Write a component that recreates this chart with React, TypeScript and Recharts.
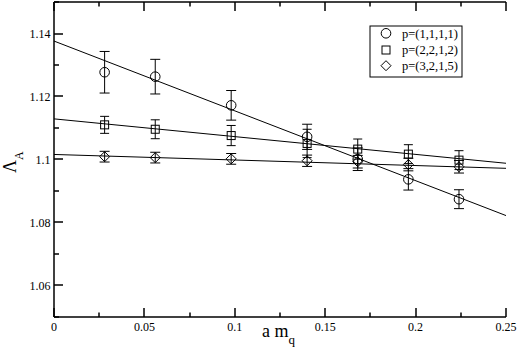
import React from 'react';
import { ComposedChart, XAxis, YAxis, Scatter, Line, ErrorBar, Customized } from 'recharts';

// ---- data ----
const xValues = [0.028, 0.056, 0.098, 0.14, 0.168, 0.196, 0.224];
const p1111 = [1.1277, 1.1263, 1.1172, 1.1072, 1.1001, 1.0937, 1.0874];
const p1111Err = [0.0066, 0.0055, 0.0047, 0.004, 0.0036, 0.0034, 0.003];
const p2212 = [1.111, 1.1096, 1.1076, 1.1051, 1.1033, 1.1017, 1.0998];
const p2212Err = [0.0027, 0.003, 0.0032, 0.0045, 0.0032, 0.003, 0.003];
const p3215 = [1.1009, 1.1006, 1.1002, 1.0996, 1.0993, 1.0984, 1.0977];
const p3215Err = [0.0017, 0.0017, 0.0017, 0.0018, 0.002, 0.002, 0.002];

const fitX = [0, 0.25];
const fit1111 = [1.1376, 1.0822];
const fit2212 = [1.1129, 1.0988];
const fit3215 = [1.1016, 1.0972];

const seriesNames = ['p=(1,1,1,1)', 'p=(2,2,1,2)', 'p=(3,2,1,5)'];

const xMajorTicks = [0, 0.05, 0.1, 0.15, 0.2, 0.25];
const xMinorTicks = [0.025, 0.075, 0.125, 0.175, 0.225];
const xTickLabels = ['0', '0.05', '0.1', '0.15', '0.2', '0.25'];
const yMajorTicks = [1.06, 1.08, 1.1, 1.12, 1.14];
const yMinorTicks = [1.05, 1.07, 1.09, 1.11, 1.13, 1.15];
const yTickLabels = ['1.06', '1.08', '1.1', '1.12', '1.14'];

const xTitle = 'a m';
const xTitleSub = 'q';
const yTitle = 'Λ';
const yTitleSub = 'A';

// ---- layout constants ----
const PLOT_TOP = 2;
const PLOT_HEIGHT = 315;
const AXIS_W = 1.5;

// ---- helpers ----
const makePoints = (ys: number[], errs: number[]) =>
  xValues.map((x, i) => ({ x, y: ys[i], err: errs[i] }));
const makeFit = (ys: number[]) => fitX.map((x, i) => ({ x, y: ys[i] }));

const d1 = makePoints(p1111, p1111Err);
const d2 = makePoints(p2212, p2212Err);
const d3 = makePoints(p3215, p3215Err);
const f1 = makeFit(fit1111);
const f2 = makeFit(fit2212);
const f3 = makeFit(fit3215);

const FONT = 'Liberation Serif, Times New Roman, Times, serif';
const txt = (size: number) => ({ fontFamily: FONT, fontSize: size });
const allX = [...xMajorTicks, ...xMinorTicks].sort((a, b) => a - b);
const allY = [...yMajorTicks, ...yMinorTicks].sort((a, b) => a - b);
const findIdx = (arr: number[], v: number) => arr.findIndex((t) => Math.abs(t - v) < 1e-9);
const snap = (v: number) => Math.round(v);

const BottomTick = (props: any) => {
  const { x, y, payload } = props;
  const idx = findIdx(xMajorTicks, payload.value);
  const major = idx >= 0;
  const len = major ? 9 : 4.5;
  const top = y - PLOT_HEIGHT;
  const sx = snap(x);
  return (
    <g>
      <line x1={sx} x2={sx} y1={y} y2={y - len} stroke="#000" strokeWidth={AXIS_W} />
      <line x1={sx} x2={sx} y1={top} y2={top + len} stroke="#000" strokeWidth={AXIS_W} />
      {major && (
        <text x={x} y={y + 13.5} textAnchor="middle" style={txt(12)} fill="#000">
          {xTickLabels[idx]}
        </text>
      )}
    </g>
  );
};
const LeftTick = (props: any) => {
  const { x, y, payload } = props;
  const idx = findIdx(yMajorTicks, payload.value);
  const major = idx >= 0;
  const sy = snap(y);
  return (
    <g>
      <line x1={x} x2={x + (major ? 9 : 5)} y1={sy} y2={sy} stroke="#000" strokeWidth={AXIS_W} />
      {major && (
        <text x={x - 3.5} y={y + 4.2} textAnchor="end" style={txt(12)} fill="#000">
          {yTickLabels[idx]}
        </text>
      )}
    </g>
  );
};
const RightTick = (props: any) => {
  const { x, y, payload } = props;
  const major = findIdx(yMajorTicks, payload.value) >= 0;
  const sy = snap(y);
  return <line x1={x} x2={x - (major ? 9 : 5)} y1={sy} y2={sy} stroke="#000" strokeWidth={AXIS_W} />;
};

const CircleShape = (p: any) => <circle cx={p.cx} cy={p.cy} r={4.8} fill="none" stroke="#000" strokeWidth={1} />;
const SquareShape = (p: any) => (
  <rect x={p.cx - 4} y={p.cy - 4} width={8} height={8} fill="none" stroke="#000" strokeWidth={1} />
);
const DiamondShape = (p: any) => (
  <path
    d={`M${p.cx},${p.cy - 5}L${p.cx + 5},${p.cy}L${p.cx},${p.cy + 5}L${p.cx - 5},${p.cy}Z`}
    fill="none"
    stroke="#000"
    strokeWidth={1}
  />
);

const Decorations = () => {
  const lx = 370;
  const ly = 26;
  const rows = [33.3, 50, 65.7];
  return (
    <g>
      <rect x={lx} y={ly} width={92} height={51} fill="#fff" stroke="#000" strokeWidth={1} />
      <circle cx={386} cy={rows[0]} r={4.8} fill="none" stroke="#000" />
      <rect x={382} y={rows[1] - 4} width={8} height={8} fill="none" stroke="#000" />
      <path
        d={`M386,${rows[2] - 5}L391,${rows[2]}L386,${rows[2] + 5}L381,${rows[2]}Z`}
        fill="none"
        stroke="#000"
      />
      {seriesNames.map((n, i) => (
        <text key={n} x={402} y={rows[i] + 4.3} style={txt(12.5)} fill="#000">
          {n}
        </text>
      ))}
      <text x={262} y={337} style={txt(18)} fill="#000">
        {xTitle}
        <tspan style={txt(13)} dy={7}>
          {xTitleSub}
        </tspan>
      </text>
      <text x={16} y={173} style={txt(18)} fill="#000" transform="rotate(-90, 16, 173)">
        {yTitle}
        <tspan style={txt(12)} dy={7}>
          {yTitleSub}
        </tspan>
      </text>
    </g>
  );
};

export default function App() {
  return (
    <div style={{ position: 'absolute', left: 0, top: 0, background: '#fff' }}>
      <ComposedChart width={518} height={357} margin={{ top: 0, right: 12, bottom: 0, left: 0 }}>
        <XAxis
          dataKey="x"
          type="number"
          domain={[0, 0.25]}
          ticks={allX}
          interval={0}
          tickSize={0}
          tickMargin={0}
          tickLine={false}
          tick={<BottomTick />}
          axisLine={{ stroke: '#000', strokeWidth: AXIS_W }}
          height={40}
          allowDataOverflow
        />
        <XAxis
          xAxisId="top"
          orientation="top"
          dataKey="x"
          type="number"
          domain={[0, 0.25]}
          ticks={allX}
          tickLine={false}
          tick={false}
          axisLine={{ stroke: '#000', strokeWidth: AXIS_W }}
          height={PLOT_TOP}
          allowDataOverflow
        />
        <YAxis
          type="number"
          domain={[1.05, 1.15]}
          ticks={allY}
          interval={0}
          tickSize={0}
          tickMargin={0}
          tickLine={false}
          tick={<LeftTick />}
          axisLine={{ stroke: '#000', strokeWidth: AXIS_W }}
          width={54}
          allowDataOverflow
        />
        <YAxis
          yAxisId="right"
          orientation="right"
          type="number"
          domain={[1.05, 1.15]}
          ticks={allY}
          interval={0}
          tickSize={0}
          tickMargin={0}
          tickLine={false}
          tick={<RightTick />}
          axisLine={{ stroke: '#000', strokeWidth: AXIS_W }}
          width={0}
          allowDataOverflow
        />
        <Line data={f1} dataKey="y" type="linear" stroke="#000" strokeWidth={1} dot={false} isAnimationActive={false} />
        <Line data={f2} dataKey="y" type="linear" stroke="#000" strokeWidth={1} dot={false} isAnimationActive={false} />
        <Line data={f3} dataKey="y" type="linear" stroke="#000" strokeWidth={1} dot={false} isAnimationActive={false} />
        <Scatter data={d1} dataKey="y" shape={<CircleShape />} isAnimationActive={false}>
          <ErrorBar dataKey="err" direction="y" width={5} stroke="#000" strokeWidth={1} isAnimationActive={false} />
        </Scatter>
        <Scatter data={d2} dataKey="y" shape={<SquareShape />} isAnimationActive={false}>
          <ErrorBar dataKey="err" direction="y" width={4.5} stroke="#000" strokeWidth={1} isAnimationActive={false} />
        </Scatter>
        <Scatter data={d3} dataKey="y" shape={<DiamondShape />} isAnimationActive={false}>
          <ErrorBar dataKey="err" direction="y" width={5} stroke="#000" strokeWidth={1} isAnimationActive={false} />
        </Scatter>
        <Customized component={Decorations} />
      </ComposedChart>
    </div>
  );
}
